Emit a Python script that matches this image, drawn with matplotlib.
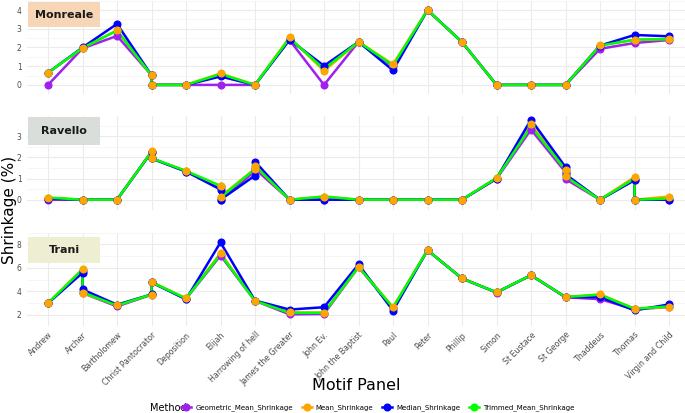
import numpy as np
import matplotlib.pyplot as plt
from matplotlib.patches import Rectangle

# categories on the x axis
motifs = ["Andrew", "Archer", "Bartholomew", "Christ Pantocrator", "Deposition",
          "Elijah", "Harrowing of hell", "James the Greater", "John Ev.",
          "John the Baptist", "Paul", "Peter", "Phillip", "Simon", "St Eustace",
          "St George", "Thaddeus", "Thomas", "Virgin and Child"]

methods = ["Geometric_Mean_Shrinkage", "Mean_Shrinkage", "Median_Shrinkage",
           "Trimmed_Mean_Shrinkage"]
colors = {"Geometric_Mean_Shrinkage": "#A020F0", "Mean_Shrinkage": "#FFA500",
          "Median_Shrinkage": "#0000FF", "Trimmed_Mean_Shrinkage": "#00FF00"}

# Monreale
monreale_x = ["Andrew", "Archer", "Bartholomew", "Christ Pantocrator", "Christ Pantocrator",
              "Deposition", "Elijah", "Harrowing of hell", "James the Greater", "John Ev.",
              "John the Baptist", "Paul", "Peter", "Phillip", "Simon", "St Eustace",
              "St George", "Thaddeus", "Thomas", "Virgin and Child"]
monreale_geo = [0, 1.95, 2.62, 0.52, 0, 0, 0, 0, 2.40, 0, 2.30, 1.00, 4.0, 2.29, 0, 0, 0, 1.93, 2.24, 2.40]
monreale_mean = [0.65, 1.97, 2.92, 0.52, 0, 0, 0.61, 0, 2.54, 0.75, 2.30, 1.10, 4.0, 2.29, 0, 0, 0, 2.12, 2.40, 2.46]
monreale_median = [0.65, 2.00, 3.26, 0.52, 0, 0, 0.45, 0, 2.42, 1.02, 2.30, 0.78, 4.0, 2.29, 0, 0, 0, 2.10, 2.67, 2.60]
monreale_trim = [0.65, 1.98, 2.90, 0.52, 0, 0, 0.58, 0, 2.50, 0.85, 2.30, 1.05, 4.0, 2.29, 0, 0, 0, 2.10, 2.42, 2.45]

# Ravello
ravello_x = ["Andrew", "Archer", "Bartholomew", "Christ Pantocrator", "Christ Pantocrator",
             "Deposition", "Elijah", "Elijah", "Harrowing of hell", "Harrowing of hell",
             "James the Greater", "John Ev.", "John the Baptist", "Paul", "Peter", "Phillip",
             "Simon", "St Eustace", "St George", "St George", "Thaddeus", "Thomas", "Thomas",
             "Virgin and Child"]
ravello_geo = [0, 0, 0, 2.25, 1.95, 1.33, 0.60, 0, 1.35, 1.45, 0, 0, 0, 0, 0, 0, 0.98, 3.31, 1.30, 0.97, 0, 0.95, 0, 0]
ravello_mean = [0.09, 0, 0, 2.28, 1.95, 1.35, 0.63, 0.15, 1.46, 1.61, 0, 0.15, 0, 0, 0, 0, 1.02, 3.56, 1.40, 1.10, 0, 1.07, 0, 0.15]
ravello_median = [0.05, 0, 0, 2.25, 1.95, 1.33, 0.48, 0, 1.14, 1.80, 0, 0, 0, 0, 0, 0, 1.00, 3.78, 1.54, 1.20, 0, 0.92, 0, 0]
ravello_trim = [0.10, 0, 0, 2.26, 1.96, 1.36, 0.65, 0.10, 1.45, 1.60, 0, 0.15, 0, 0, 0, 0, 1.02, 3.45, 1.42, 1.10, 0, 1.00, 0, 0.05]

# Trani
trani_x = ["Andrew", "Archer", "Archer", "Bartholomew", "Christ Pantocrator",
           "Christ Pantocrator", "Deposition", "Elijah", "Harrowing of hell",
           "James the Greater", "John Ev.", "John the Baptist", "Paul", "Peter", "Phillip",
           "Simon", "St Eustace", "St George", "Thaddeus", "Thomas", "Virgin and Child"]
trani_geo = [2.95, 5.75, 3.85, 2.70, 3.70, 4.75, 3.35, 7.05, 3.18, 2.02, 2.05, 6.05, 2.55, 7.5, 5.09, 3.88, 5.35, 3.48, 3.32, 2.45, 2.65]
trani_mean = [2.99, 5.88, 3.86, 2.80, 3.71, 4.77, 3.40, 7.26, 3.18, 2.19, 2.17, 6.10, 2.63, 7.5, 5.09, 3.90, 5.37, 3.50, 3.73, 2.50, 2.65]
trani_median = [2.98, 5.57, 4.15, 2.85, 3.72, 4.76, 3.30, 8.17, 3.20, 2.43, 2.63, 6.29, 2.34, 7.5, 5.09, 3.90, 5.37, 3.50, 3.50, 2.36, 2.87]
trani_trim = [2.99, 5.85, 3.90, 2.78, 3.72, 4.77, 3.38, 7.15, 3.18, 2.15, 2.15, 6.08, 2.60, 7.5, 5.09, 3.90, 5.37, 3.50, 3.70, 2.50, 2.70]

panels = [
    ("Monreale", "#F6D6B6", monreale_x,
     [monreale_geo, monreale_mean, monreale_median, monreale_trim], [0, 1, 2, 3, 4]),
    ("Ravello", "#D9DEDB", ravello_x,
     [ravello_geo, ravello_mean, ravello_median, ravello_trim], [0, 1, 2, 3]),
    ("Trani", "#EEEED3", trani_x,
     [trani_geo, trani_mean, trani_median, trani_trim], [2, 4, 6, 8]),
]

W, H = 685, 413
fig = plt.figure(figsize=(W / 100, H / 100), dpi=100)

# panel boxes in pixels: (top, bottom) and the facet label box (top, bottom)
boxes = [(0.75, 94.25), (115.6, 210.3), (232.7, 326.3)]
label_boxes = [(2, 27), (117, 145), (237, 263)]
left_px, right_px = 27.3, 689.7

draw_order_lines = [0, 1, 2, 3]
draw_order_pts = [3, 0, 2, 1]

for (name, fill, xcats, series, yticks), (top, bot), (lt, lb) in zip(panels, boxes, label_boxes):
    ax = fig.add_axes([left_px / W, 1 - bot / H, (right_px - left_px) / W, (bot - top) / H])
    xs = [motifs.index(c) for c in xcats]
    for i in draw_order_lines:
        ax.plot(xs, series[i], color=colors[methods[i]], lw=1.8, zorder=2 + i * 0.1)
    for k, i in enumerate(draw_order_pts):
        ax.plot(xs, series[i], ls="none", marker="o", ms=4.8, color=colors[methods[i]],
                zorder=3 + k * 0.1)
    allv = np.concatenate([np.array(s, dtype=float) for s in series])
    lo, hi = allv.min(), allv.max()
    pad = (hi - lo) * 0.05
    ax.set_ylim(lo - pad, hi + pad)
    ax.set_xlim(-0.6, len(motifs) - 0.4)
    ax.set_yticks(yticks)
    step = yticks[1] - yticks[0]
    ax.set_yticks([t + step / 2 for t in yticks[:-1]] + [yticks[0] - step / 2, yticks[-1] + step / 2], minor=True)
    ax.set_xticks(range(len(motifs)))
    ax.grid(True, which="major", color="#EBEBEB", lw=0.8)
    ax.grid(True, which="minor", axis="y", color="#F3F3F3", lw=0.5)
    ax.set_axisbelow(True)
    for s in ax.spines.values():
        s.set_visible(False)
    ax.tick_params(axis="both", which="both", length=0)
    ax.tick_params(axis="y", labelsize=5.5, labelcolor="#4D4D4D", pad=4)
    if name == "Trani":
        ax.set_xticklabels(motifs, rotation=45, ha="right", va="top",
                           rotation_mode="anchor", fontsize=5.7, color="#4D4D4D")
        ax.tick_params(axis="x", pad=3)
    else:
        ax.set_xticklabels([])
    # facet label box
    fig.patches.append(Rectangle((28 / W, 1 - lb / H), 72 / W, (lb - lt) / H,
                                 transform=fig.transFigure, fc=fill, ec="none", zorder=5))
    fig.text(64 / W, 1 - (lt + lb) / 2 / H, name, ha="center", va="center", fontsize=8,
             fontweight="bold", color="#1A1A1A", zorder=6)

fig.text(10 / W, 1 - 210 / H, "Shrinkage (%)", rotation=90, ha="center", va="center",
         fontsize=11)
fig.text(356 / W, 1 - 385 / H, "Motif Panel", ha="center", va="center", fontsize=11.5)

# legend
fig.text(150 / W, 1 - 408 / H, "Method", ha="left", va="center", fontsize=7)
handles = [plt.Line2D([], [], color=colors[m], lw=1.8, marker="o", ms=4.8) for m in methods]
fig.legend(handles, methods, loc="center", bbox_to_anchor=(378 / W, 1 - 408 / H),
           ncol=4, frameon=False, fontsize=5, handlelength=1.4, handletextpad=0.6,
           columnspacing=1.3, borderpad=0, borderaxespad=0)

fig.savefig("out.png", dpi=100)
